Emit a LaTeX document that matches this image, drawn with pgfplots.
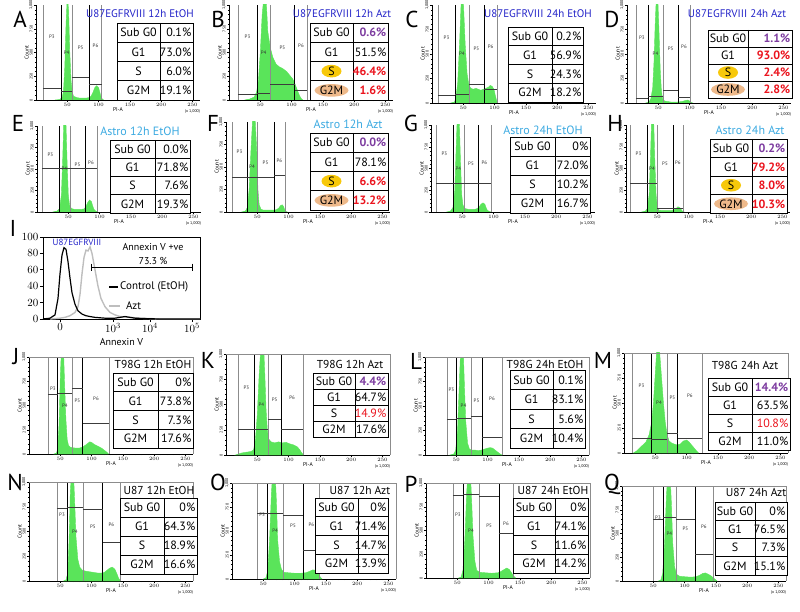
\documentclass[border=0pt]{standalone}
\usepackage{pgfplots}
\pgfplotsset{compat=1.18}
\usepackage{fontspec}
\setmainfont{PT Sans}
\definecolor{hgreen}{RGB}{90,228,90}
\definecolor{tblue}{RGB}{35,35,200}
\definecolor{lblue}{RGB}{60,170,225}
\definecolor{vpurple}{RGB}{125,60,160}
\definecolor{vred}{RGB}{235,20,30}
\definecolor{hyel}{RGB}{247,200,10}
\definecolor{htan}{RGB}{238,185,138}
\definecolor{gcol}{RGB}{140,140,140}
\definecolor{hcol}{RGB}{60,60,60}
\definecolor{aztgray}{RGB}{190,190,190}

\pgfplotsset{
 fc/.style={scale only axis, width=164pt, height=#1, anchor=south west,
  xmin=0,xmax=262,ymin=0,ymax=100,
  axis x line*=bottom, axis y line*=left,
  axis line style={line width=0.5pt,-},
  xtick={50,100,150,200,250}, minor x tick num=4,
  ytick={0,25,50,75,100}, yticklabels={0,250,500,750,{1,000}}, minor y tick num=4,
  tick align=outside, major tick length=2.2pt, minor tick length=1.2pt,
  tick style={black, line width=0.4pt},
  tick label style={font=\fontsize{4}{4}\selectfont, inner sep=1pt},
  yticklabel style={rotate=90, anchor=south},
  xlabel={PI-A}, ylabel={Count},
  label style={font=\fontsize{5.5}{6}\selectfont},
  xlabel style={yshift=4pt}, ylabel style={yshift=-4pt},
  clip mode=individual,
 },
}
\tikzset{gl/.style={font=\fontsize{5}{5}\selectfont, inner sep=0pt, text=black!80},
 tl/.style={font=\fontsize{12}{12}\selectfont, inner sep=0pt, text height=8.6pt, text depth=0pt}}

\newcommand\gates[9]{%
 \addplot[gcol, line width=0.5pt] coordinates {(#1,0)(#1,100)};
 \addplot[black, line width=0.8pt] coordinates {(#2,0)(#2,100)};
 \addplot[gcol, line width=0.5pt] coordinates {(#3,0)(#3,100)};
 \addplot[black, line width=0.8pt] coordinates {(#4,0)(#4,100)};
 \addplot[gcol, line width=0.5pt] coordinates {(#5,0)(#5,100)};
 \addplot[hcol, line width=0.5pt] coordinates {(#1,#6)(#2,#6)};
 \addplot[hcol, line width=0.5pt] coordinates {(#2,#7)(#3,#7)};
 \addplot[hcol, line width=0.5pt] coordinates {(#3,#8)(#4,#8)};
 \addplot[hcol, line width=0.5pt] coordinates {(#4,#9)(#5,#9)};
 \node[gl] at (axis cs:{(#1+#2)/2},67) {P3};
 \node[gl] at (axis cs:{(#2+#3)/2},50) {P4};
 \node[gl] at (axis cs:{(#3+#4)/2},55) {P5};
 \node[gl] at (axis cs:{(#4+#5)/2},57) {P6};
}
\newcommand\xthou{\node[font=\fontsize{4}{4}\selectfont, anchor=north] at (axis cs:250,0) [yshift=-6pt] {(x 1,000)};}
\newcommand\frm{\draw[gcol, line width=0.5pt] (rel axis cs:0,1) -- (rel axis cs:1,1) -- (rel axis cs:1,0);}

\newcommand\tfill[4]{\fill[white] (#1,#3) rectangle (#2,{#3+4*#4});}
\newcommand\hl[3]{%
 \fill[hyel] (#1,{#2+2.5*#3}) ellipse [x radius=10, y radius=6.3];
 \fill[htan] (#1,{#2+3.5*#3}) ellipse [x radius=17, y radius=6.3];}
\newcommand\ftab[9]{%
 \foreach \k in {1,2,3} {\draw[line width=0.9pt] (#1,{#4+\k*#5}) -- (#3,{#4+\k*#5});}
 \draw[line width=0.9pt] (#1,#4) rectangle (#3,{#4+4*#5});
 \draw[line width=0.9pt] (#2,#4) -- (#2,{#4+4*#5});
 \node[tl] at ({(#1+#2)/2},{#4+0.5*#5}) {Sub G0};
 \node[tl] at ({(#1+#2)/2},{#4+1.5*#5}) {G1};
 \node[tl] at ({(#1+#2)/2},{#4+2.5*#5}) {S};
 \node[tl] at ({(#1+#2)/2},{#4+3.5*#5}) {G2M};
 \node[tl,anchor=east] at ({#3-1.5},{#4+0.5*#5}) {#6};
 \node[tl,anchor=east] at ({#3-1.5},{#4+1.5*#5}) {#7};
 \node[tl,anchor=east] at ({#3-1.5},{#4+2.5*#5}) {#8};
 \node[tl,anchor=east] at ({#3-1.5},{#4+3.5*#5}) {#9};
}
\newcommand\pu[1]{{\color{vpurple}\bfseries #1}}
\newcommand\rd[1]{{\color{vred}\bfseries #1}}
\newcommand\rl[1]{{\color{vred}#1}}

\begin{document}
\begin{tikzpicture}[x=1pt,y=1pt]
\path[use as bounding box] (0pt,0pt) rectangle (800pt,611pt);

% ---------- Row 1 ----------
\begin{axis}[fc=95pt, at={(36pt,511pt)}]
\addplot[fill=hgreen, draw=hgreen] coordinates {(30,0)(38,0.5)(42,3)(44,10)(46,35)(48,80)(50,110)(52,95)(54,50)(56,20)(58,8)(60,4)(65,2.5)(70,2)(75,2)(80,2)(85,2.5)(88,4)(91,8)(94,13)(97,15)(100,13)(102,8)(104,3)(106,1)(108,0)} \closedcycle;
\gates{11}{40}{57.5}{85}{105}{12.6}{9.5}{24}{17}
\xthou
\end{axis}
\begin{axis}[fc=95pt, at={(229pt,511pt)}]
\addplot[fill=hgreen, draw=hgreen] coordinates {(25,0)(33,1)(40,3)(44,8)(47,20)(50,50)(53,90)(56,110)(59,110)(62,72)(66,55)(70,45)(75,38)(80,35)(86,33)(92,30)(97,26)(102,22)(106,16)(110,9)(113,4)(116,1)(118,0)} \closedcycle;
\gates{14}{45}{65.5}{105}{125}{6.3}{7.4}{16.8}{10.5}
\xthou
\end{axis}
\begin{axis}[fc=98pt, at={(432pt,508pt)}]
\addplot[fill=hgreen, draw=hgreen] coordinates {(30,0)(36,1)(38,5)(41,20)(44,60)(47,110)(50,105)(53,60)(56,30)(59,18)(62,15)(66,14)(70,15)(74,14)(78,13)(82,14)(86,15)(90,16)(93,18)(96,17)(99,14)(101,8)(103,3)(105,0)} \closedcycle;
\gates{9.6}{36.7}{59}{83}{104}{8.2}{9.2}{19.4}{14.3}
\xthou
\end{axis}
\begin{axis}[fc=98pt, at={(627pt,508pt)}]
\addplot[fill=hgreen, draw=hgreen] coordinates {(30,0)(35,1)(38,4)(41,15)(43,40)(45,80)(47,110)(49,110)(51,75)(53,35)(55,12)(57,4)(60,2)(70,1)(80,1)(88,1.5)(93,2.5)(97,3)(100,2)(103,0.5)(105,0)} \closedcycle;
\gates{14}{33.5}{57.5}{81.5}{100.6}{5.1}{7.1}{13.3}{6.1}
\xthou
\end{axis}

% ---------- Row 2 ----------
\begin{axis}[fc=86pt, at={(37pt,399pt)}]
\addplot[fill=hgreen, draw=hgreen] coordinates {(25,0)(32,1)(36,4)(39,20)(41,60)(43,110)(46,110)(48,60)(50,20)(52,8)(55,4)(60,3)(65,3)(70,3)(75,3.5)(78,6)(81,11)(84,14)(87,12)(89,7)(91,3)(94,1)(97,0)} \closedcycle;
\gates{8}{35}{52.7}{76.7}{95.8}{51}{51}{51}{51}
\xthou
\end{axis}
\begin{axis}[fc=90pt, at={(226pt,399pt)}]
\addplot[fill=hgreen, draw=hgreen] coordinates {(25,0)(31,1)(34,5)(37,25)(40,70)(43,110)(46,110)(49,70)(51,25)(53,8)(56,3)(60,2)(65,2)(70,2)(75,2)(80,2.5)(84,4)(87,7)(90,8)(92,6)(94,2)(96,0.5)(98,0)} \closedcycle;
\gates{9.6}{33.5}{49.5}{76.7}{94}{38.9}{38.9}{38.9}{41}
\xthou
\end{axis}
\begin{axis}[fc=87pt, at={(431pt,399pt)}]
\addplot[fill=hgreen, draw=hgreen] coordinates {(25,0)(31,1)(35,5)(38,25)(40,70)(42,110)(45,110)(47,60)(49,20)(51,8)(54,4)(60,3)(65,3)(70,3)(74,4)(77,6)(80,9)(83,10.5)(86,9)(88,5)(90,2)(93,0.5)(96,0)} \closedcycle;
\gates{8}{35}{52.7}{75}{95.8}{33}{33}{33}{33}
\xthou
\end{axis}
\begin{axis}[fc=87pt, at={(626pt,399pt)}]
\addplot[fill=hgreen, draw=hgreen] coordinates {(25,0)(31,1)(34,4)(37,20)(39,60)(41,110)(44,110)(46,60)(48,20)(50,6)(53,2)(60,1.5)(70,1.5)(76,2)(80,4)(83,6)(86,5)(88,3)(90,1)(93,0)} \closedcycle;
\gates{6.4}{33.5}{49.5}{75}{91}{33}{33}{4.6}{4.6}
\xthou
\end{axis}

% ---------- Annexin V (I) ----------
\begin{axis}[scale only axis, width=157pt, height=82pt, at={(43pt,292pt)}, anchor=south west,
 xmin=-17, xmax=140, ymin=0, ymax=100,
 xtick={0,53,90,132}, xticklabels={$0$,$10^{3}$,$10^{4}$,$10^{5}$},
 ytick={0,20,40,60,80,100}, xtick pos=lower, ytick pos=left,
 tick align=outside, major tick length=3pt, tick style={black, line width=0.6pt},
 tick label style={font=\fontsize{11}{11}\selectfont, inner sep=1.5pt},
 xlabel={Annexin V}, xlabel style={font=\fontsize{10}{10}\selectfont, yshift=-1pt},
 axis line style={line width=0.6pt}, clip mode=individual]
\addplot[aztgray, line width=1.4pt] coordinates {(-10,0)(0,1)(5,2)(10,4)(15,8)(18,15)(20,30)(22,55)(24,75)(26,84)(28,83)(30,88)(32,80)(35,60)(38,40)(41,25)(45,15)(50,8)(55,5)(60,3)(70,2)(80,1)(90,0.5)(100,0)(140,0)};
\addplot[black, line width=1.2pt] coordinates {(-17,0)(-10,1)(-5,5)(-2,25)(0,55)(2,78)(4,87)(6,85)(8,70)(10,50)(12,32)(15,18)(18,10)(22,6)(26,4)(30,3)(35,2)(40,1.5)(45,1)(55,1)(60,2)(65,3)(70,2)(75,1)(85,0.5)(100,0)(140,0)};
\draw[line width=0.9pt, |-|] (axis cs:31,63) -- (axis cs:133,63);
\end{axis}

% ---------- Row 3 ----------
\begin{axis}[fc=97pt, at={(29pt,157pt)}]
\addplot[fill=hgreen, draw=hgreen] coordinates {(40,0)(44,1)(46,6)(48,30)(50,80)(52,110)(55,110)(57,70)(59,35)(61,15)(63,9)(66,7)(70,6.5)(75,6)(80,6)(85,7)(90,9)(94,11)(97,12.5)(100,12)(104,10)(110,8)(116,6)(120,4)(124,2)(127,0)} \closedcycle;
\gates{30}{46}{68.7}{86}{128}{61.9}{62.9}{68}{32}
\xthou \frm
\end{axis}
\begin{axis}[fc=101pt, at={(226pt,156pt)}]
\addplot[fill=hgreen, draw=hgreen] coordinates {(15,0)(20,1)(25,2)(30,2.5)(35,3)(40,3.5)(44,5)(47,15)(50,40)(53,80)(56,110)(60,110)(62,80)(64,45)(66,25)(68,16)(72,13)(78,12)(84,13)(90,12)(96,12.5)(102,11)(108,10)(114,8)(118,5)(121,2)(124,0)} \closedcycle;
\gates{19}{46}{67}{88}{123}{25.7}{25.7}{35.6}{25.7}
\xthou \frm
\end{axis}
\begin{axis}[fc=98pt, at={(425pt,156pt)}]
\addplot[fill=hgreen, draw=hgreen] coordinates {(40,0)(46,1)(49,5)(52,25)(55,75)(57,110)(61,110)(63,70)(65,35)(68,12)(71,6)(75,5)(80,5)(85,4.5)(90,5)(95,6)(100,7)(104,7.5)(108,7)(112,5)(116,3)(120,1)(123,0)} \closedcycle;
\gates{35}{49.5}{73.5}{91}{123}{36.7}{37.8}{39.8}{18.4}
\xthou \frm
\end{axis}
\begin{axis}[fc=100pt, at={(624pt,158pt)}]
\addplot[fill=hgreen, draw=hgreen] coordinates {(15,0)(20,2)(25,5)(30,8)(35,11)(40,18)(44,30)(47,50)(50,80)(52,100)(54,110)(57,100)(60,75)(63,50)(66,30)(69,18)(72,12)(76,10)(80,9)(85,8)(90,9)(95,12)(100,13)(104,11)(108,8)(112,5)(116,2)(119,0)} \closedcycle;
\gates{12.8}{43}{68.7}{86}{124.6}{15}{14}{20}{15}
\xthou \frm
\end{axis}

% ---------- Row 4 ----------
\begin{axis}[fc=99pt, at={(29pt,30pt)}]
\addplot[fill=hgreen, draw=hgreen] coordinates {(55,0)(59,1)(62,8)(64,40)(66,90)(68,110)(71,110)(73,80)(75,45)(78,22)(81,14)(85,11)(90,10)(95,9.5)(100,9)(105,8.5)(110,8)(115,8)(120,8.5)(125,11)(129,13)(133,14)(137,12)(140,8)(143,3)(146,0)} \closedcycle;
\gates{44.7}{60.7}{86}{118}{145}{73.7}{74.7}{72.7}{39.4}
\xthou \frm
\end{axis}
\begin{axis}[fc=96pt, at={(232pt,32pt)}]
\addplot[fill=hgreen, draw=hgreen] coordinates {(50,0)(54,1)(57,8)(60,40)(63,90)(65,110)(69,110)(71,80)(73,40)(76,18)(79,10)(83,7)(90,6.5)(100,6)(110,6)(118,6.5)(124,8)(129,9.5)(134,9)(138,6)(141,2)(144,0)} \closedcycle;
\gates{40}{56}{81.5}{113.4}{140}{68.8}{68.8}{66.7}{30}
\xthou \frm
\end{axis}
\begin{axis}[fc=95pt, at={(426pt,33pt)}]
\addplot[fill=hgreen, draw=hgreen] coordinates {(52,0)(56,1)(59,8)(62,40)(65,90)(67,110)(71,110)(73,80)(75,45)(78,18)(81,8)(86,6)(95,5.5)(105,5)(115,5.5)(120,7)(125,9)(129,10.5)(133,9)(137,5)(140,2)(143,0)} \closedcycle;
\gates{43}{59}{84.7}{116.6}{139}{87.4}{88.4}{86.3}{47.4}
\xthou \frm
\end{axis}
\begin{axis}[fc=95pt, at={(622pt,30pt)}]
\addplot[fill=hgreen, draw=hgreen] coordinates {(58,0)(62,1)(65,8)(68,40)(71,90)(73,110)(77,110)(79,80)(81,40)(84,15)(87,7)(92,5)(100,4.5)(110,4)(118,4.5)(124,6)(129,8)(133,8.5)(138,7)(143,5)(148,2)(152,0)} \closedcycle;
\gates{49.5}{65.5}{86}{116.6}{145}{65}{67.4}{65}{28.4}
\xthou \frm
\end{axis}

% ---------- tables, titles, letters (pixel coords, y down) ----------
\begin{scope}[shift={(0pt,611pt)}, x=1pt, y=-1pt]
\tikzset{lt/.style={font=\fontsize{23}{23}\selectfont, inner sep=0pt},
 t1/.style={font=\fontsize{11}{11}\selectfont, text=tblue, inner sep=0pt},
 t2/.style={font=\fontsize{12}{12}\selectfont, text=lblue, inner sep=0pt},
 t3/.style={font=\fontsize{11.5}{11.5}\selectfont, inner sep=0pt}}
% letters
\node[lt] at (20,19) {A}; \node[lt] at (218,19) {B}; \node[lt] at (412,19) {C}; \node[lt] at (612,19) {D};
\node[lt] at (18,123) {E}; \node[lt] at (213,123) {F}; \node[lt] at (411,123) {G}; \node[lt] at (615,123) {H};
\node[lt] at (13,228) {I};
\node[lt] at (16,357) {J}; \node[lt] at (208,360) {K}; \node[lt] at (416,361) {L}; \node[lt] at (603,360) {M};
\node[lt] at (15,482) {N}; \node[lt] at (218,482) {O}; \node[lt] at (411,484) {P}; \node[lt] at (612,484) {Q};
% titles
\node[t1] at (140,14) {U87EGFRVIII 12h EtOH};
\node[t1] at (342,14) {U87EGFRVIII 12h Azt};
\node[t1] at (538,14) {U87EGFRVIII 24h EtOH};
\node[t1] at (737,14) {U87EGFRVIII 24h Azt};
\node[t2] at (140,131) {Astro 12h EtOH};
\node[t2] at (348,124) {Astro 12h Azt};
\node[t2] at (543,130) {Astro 24h EtOH};
\node[t2] at (750,130) {Astro 24h Azt};
\node[t3] at (153,364) {T98G 12h EtOH};
\node[t3] at (350,364) {T98G 12h Azt};
\node[t3] at (545,364) {T98G 24h EtOH};
\node[t3] at (745,365) {T98G 24h Azt};
\node[t3] at (159,490) {U87 12h EtOH};
\node[t3] at (360,490) {U87 12h Azt};
\node[t3] at (553,490) {U87 24h EtOH};
\node[t3] at (756,492) {U87 24h Azt};
% tables
\tfill{117}{193}{23}{19.25}\ftab{117}{160}{193}{23}{19.25}{0.1\%}{73.0\%}{6.0\%}{19.1\%}
\tfill{310}{388}{23}{19.25}\hl{331.5}{23}{19.25}\ftab{310}{353}{388}{23}{19.25}{\pu{0.6\%}}{51.5\%}{\rd{46.4\%}}{\rd{1.6\%}}
\tfill{508}{583}{27}{18.75}\ftab{508}{552}{583}{27}{18.75}{0.2\%}{56.9\%}{24.3\%}{18.2\%}
\tfill{708}{792}{30}{17}\hl{728}{30}{17}\ftab{708}{748}{792}{30}{17}{\pu{1.1\%}}{\rd{93.0\%}}{\rd{2.4\%}}{\rd{2.8\%}}
\tfill{110}{190}{140}{18.25}\ftab{110}{155}{190}{140}{18.25}{0.0\%}{71.8\%}{7.6\%}{19.3\%}
\tfill{310}{388}{133}{19.25}\hl{331.5}{133}{19.25}\ftab{310}{353}{388}{133}{19.25}{\pu{0.0\%}}{78.1\%}{\rd{6.6\%}}{\rd{13.2\%}}
\tfill{510}{590}{137}{19}\ftab{510}{555}{590}{137}{19}{0\%}{72.0\%}{10.2\%}{16.7\%}
\tfill{710}{787}{139}{18.5}\hl{731}{139}{18.5}\ftab{710}{752}{787}{139}{18.5}{\pu{0.2\%}}{\rd{79.2\%}}{\rd{8.0\%}}{\rd{10.3\%}}
\tfill{113}{193}{373}{18.75}\ftab{113}{158}{193}{373}{18.75}{0\%}{73.8\%}{7.3\%}{17.6\%}
\tfill{313}{388}{373}{16}\ftab{313}{355}{388}{373}{16}{\pu{4.4\%}}{64.7\%}{\rl{14.9\%}}{17.6\%}
\tfill{510}{585}{370}{19.5}\ftab{510}{553}{585}{370}{19.5}{0.1\%}{83.1\%}{5.6\%}{10.4\%}
\tfill{708}{790}{378}{18}\ftab{708}{752}{790}{378}{18}{\pu{14.4\%}}{63.5\%}{\rl{10.8\%}}{11.0\%}
\tfill{120}{197}{498}{19}\ftab{120}{164}{197}{498}{19}{0\%}{64.3\%}{18.9\%}{16.6\%}
\tfill{315}{388}{498}{18.75}\ftab{315}{358}{388}{498}{18.75}{0\%}{71.4\%}{14.7\%}{13.9\%}
\tfill{513}{588}{498}{18.75}\ftab{513}{555}{588}{498}{18.75}{0\%}{74.1\%}{11.6\%}{14.2\%}
\tfill{715}{787}{502}{18.25}\ftab{715}{755}{787}{502}{18.25}{0\%}{76.5\%}{7.3\%}{15.1\%}
% Annexin panel texts
\node[font=\fontsize{9}{9}\selectfont, text=tblue, inner sep=0pt] at (77,242) {U87EGFRVIII};
\node[font=\fontsize{10}{10}\selectfont, inner sep=0pt] at (153,247) {Annexin V +ve};
\node[font=\fontsize{10}{10}\selectfont, inner sep=0pt] at (153,261) {73.3 \%};
\draw[line width=2.5pt] (109,287) -- (118,287);
\node[font=\fontsize{11}{11}\selectfont, inner sep=0pt, anchor=west] at (120,287) {Control (EtOH)};
\draw[aztgray, line width=2.5pt] (109,306) -- (120,306);
\node[font=\fontsize{11}{11}\selectfont, inner sep=0pt, anchor=west] at (126,306) {Azt};
\end{scope}
\end{tikzpicture}
\end{document}
